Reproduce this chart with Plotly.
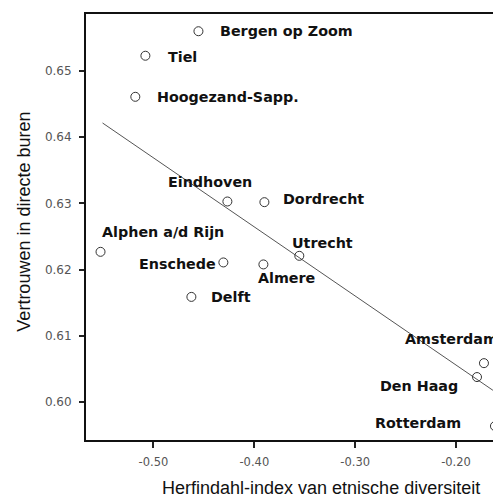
import plotly.graph_objects as go

cities = ["Bergen op Zoom", "Tiel", "Hoogezand-Sapp.", "Eindhoven", "Dordrecht",
          "Alphen a/d Rijn", "Enschede", "Delft", "Almere", "Utrecht",
          "Amsterdam", "Den Haag", "Rotterdam"]
herfindahl = [-0.4554, -0.508, -0.518, -0.4267, -0.390,
              -0.5525, -0.4307, -0.4624, -0.391, -0.3554,
              -0.1723, -0.1792, -0.1614]
vertrouwen = [0.6560, 0.6523, 0.6461, 0.6303, 0.6302,
              0.6227, 0.6211, 0.6159, 0.6208, 0.6221,
              0.6059, 0.6038, 0.5964]
fit_x = [-0.5505, -0.1634]
fit_y = [0.64215, 0.6018]

x_ticks = [-0.50, -0.40, -0.30, -0.20]
x_tick_labels = ["-0.50", "-0.40", "-0.30", "-0.20"]
y_ticks = [0.60, 0.61, 0.62, 0.63, 0.64, 0.65]
y_tick_labels = ["0.60", "0.61", "0.62", "0.63", "0.64", "0.65"]

# label placement: (xanchor, xshift px, yshift px)
label_pos = {
    "Bergen op Zoom": ("left", 20, 0),
    "Tiel": ("left", 21, -1),
    "Hoogezand-Sapp.": ("left", 20, 0),
    "Eindhoven": ("center", -17, 19),
    "Dordrecht": ("left", 17, 3),
    "Alphen a/d Rijn": ("left", -1, 20),
    "Enschede": ("right", -5, -2),
    "Delft": ("left", 18, 0),
    "Almere": ("left", -7, -14),
    "Utrecht": ("left", -9, 13),
    "Amsterdam": ("left", -81, 24),
    "Den Haag": ("left", -99, -9),
    "Rotterdam": ("left", -122, 3),
}

fig = go.Figure()
fig.add_trace(go.Scatter(x=fit_x, y=fit_y, mode="lines",
                         line=dict(color="#555555", width=1), hoverinfo="skip"))
fig.add_trace(go.Scatter(x=herfindahl, y=vertrouwen, mode="markers", cliponaxis=False,
                         marker=dict(symbol="circle-open", size=9,
                                     color="#333333", line=dict(width=1))))

annotations = []
for c, xv, yv in zip(cities, herfindahl, vertrouwen):
    anc, xs, ys = label_pos[c]
    annotations.append(dict(x=xv, y=yv, xref="x", yref="y", text=c,
                            showarrow=False, xanchor=anc, yanchor="middle",
                            xshift=xs, yshift=ys,
                            font=dict(family="DejaVu Sans", size=14.3,
                                      color="#111111", weight="bold")))

annotations.append(dict(x=0.566, y=-0.112, xref="paper", yref="paper",
                        text="Herfindahl-index van etnische diversiteit",
                        showarrow=False, xanchor="center", yanchor="middle",
                        font=dict(family="Liberation Sans", size=18, color="#111111")))
annotations.append(dict(x=-0.150, y=0.512, xref="paper", yref="paper",
                        text="Vertrouwen in directe buren", textangle=-90,
                        showarrow=False, xanchor="center", yanchor="middle",
                        font=dict(family="Liberation Sans", size=18, color="#111111")))

# page body has an 8px margin, so the figure is 493 px and margins are reduced by 8
fig.update_layout(
    width=493, height=493,
    margin=dict(l=78, r=0, t=6, b=61, autoexpand=False),
    paper_bgcolor="white", plot_bgcolor="white",
    showlegend=False,
    annotations=annotations,
    xaxis=dict(range=[-0.5669, -0.1554], tickvals=x_ticks, ticktext=x_tick_labels,
               showgrid=False, zeroline=False, showline=True, linecolor="#111111",
               linewidth=2, mirror=True, ticks="outside", ticklen=6, tickwidth=2,
               tickcolor="#222222", ticklabelstandoff=4, automargin=False,
               tickfont=dict(family="DejaVu Sans", size=11.5, color="#555555")),
    yaxis=dict(range=[0.5943, 0.6586], tickvals=y_ticks, ticktext=y_tick_labels,
               showgrid=False, zeroline=False, showline=True, linecolor="#111111",
               linewidth=2, mirror=False, ticks="outside", ticklen=5, tickwidth=2,
               tickcolor="#222222", ticklabelstandoff=5, automargin=False,
               tickfont=dict(family="DejaVu Sans", size=12, color="#555555")),
)

fig.write_html("out.html")
